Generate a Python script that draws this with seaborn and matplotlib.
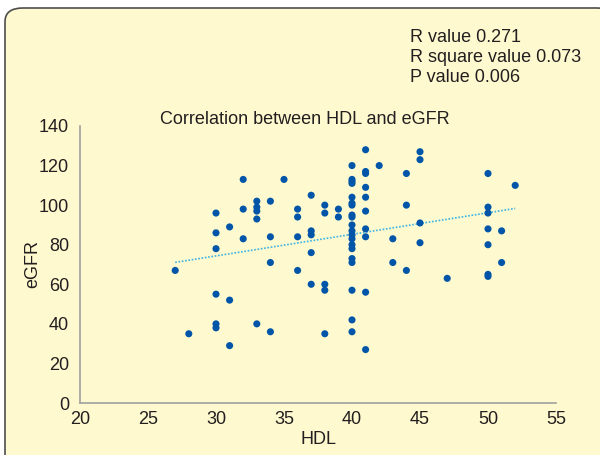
import pandas as pd
import matplotlib.pyplot as plt
import seaborn as sns
from matplotlib.patches import FancyBboxPatch

sns.set_theme(style="white")
plt.rcParams['font.family'] = ['Liberation Sans', 'DejaVu Sans']

# values (HDL, eGFR pairs)
hdl = [32, 30, 32, 31, 30, 32, 30, 27, 30, 31, 30, 30, 28, 31,
       35, 33, 33, 33, 33, 34, 34, 34, 33, 34,
       36, 36, 36, 36, 37, 37, 37, 37, 37,
       38, 38, 38, 38, 38, 39, 39,
       40, 40, 40, 40, 40, 40, 40, 40, 40, 40, 40, 40, 40, 40, 40, 40, 40, 40, 40, 40,
       41, 41, 41, 41, 41, 41, 41, 41, 41, 41,
       42, 43, 43, 44, 44, 44,
       45, 45, 45, 45, 47,
       50, 50, 50, 50, 51, 50, 51, 50, 50, 52]
egfr = [113, 96, 98, 89, 86, 83, 78, 67, 55, 52, 40, 38, 35, 29,
        113, 102, 99, 97, 93, 102, 84, 71, 40, 36,
        98, 94, 84, 67, 105, 87, 85, 76, 60,
        100, 96, 60, 57, 35, 98, 94,
        120, 113, 112, 111, 104, 101, 100, 95, 94, 90, 87, 85, 83, 80, 78, 73, 71, 57, 42, 36,
        128, 117, 116, 109, 104, 97, 88, 84, 56, 27,
        120, 83, 71, 116, 100, 67,
        127, 123, 91, 81, 63,
        116, 99, 96, 88, 87, 80, 71, 65, 64, 110]

stats_lines = ["R value 0.271", "R square value 0.073", "P value 0.006"]
title = "Correlation between HDL and eGFR"

df = pd.DataFrame({"HDL": hdl, "eGFR": egfr})

bg = '#FEF9CE'
txt = '#231F20'
fs = 13
fig = plt.figure(figsize=(6, 4.55), dpi=100)
fig.patch.set_facecolor('white')

# rounded panel border (runs off the right and bottom edges)
W, H = 600, 455
box = FancyBboxPatch((5 / W, 1 - 8 / H - 460 / H), 610 / W, 460 / H,
                     boxstyle="round,pad=0,rounding_size=0.03",
                     transform=fig.transFigure, facecolor=bg,
                     edgecolor='#4D4D4D', linewidth=1.2, zorder=-10)
fig.patches.append(box)

ax = fig.add_axes([80 / W, 1 - 403 / H, 476 / W, 277 / H])
ax.patch.set_alpha(0)

sns.regplot(data=df, x="HDL", y="eGFR", scatter=False, ci=None, ax=ax,
            line_kws=dict(color='#3BB3E6', linestyle=(0, (1, 1)), linewidth=1.2))
sns.scatterplot(data=df, x="HDL", y="eGFR", ax=ax, color='#0055A8',
                s=26, edgecolor='none', zorder=3)

ax.set_xlim(20, 55)
ax.set_ylim(0, 140)
ax.set_xticks(range(20, 56, 5))
ax.set_yticks(range(0, 141, 20))
for s in ['top', 'right']:
    ax.spines[s].set_visible(False)
for s in ['left', 'bottom']:
    ax.spines[s].set_color('#A0A0A0')
    ax.spines[s].set_linewidth(1.2)
ax.tick_params(axis='y', length=0, labelsize=fs, labelcolor=txt, pad=8)
ax.tick_params(axis='x', length=0, labelsize=fs, labelcolor=txt, pad=6)
ax.set_xlabel("HDL", fontsize=fs, color=txt, labelpad=2)
ax.set_ylabel("eGFR", fontsize=fs, color=txt, labelpad=-2)
ax.grid(False)

fig.text(305 / W, 1 - 119 / H, title, ha='center', va='center', fontsize=fs, color=txt)
for i, line in enumerate(stats_lines):
    fig.text(410 / W, 1 - (37 + 20 * i) / H, line, ha='left', va='center',
             fontsize=fs, color=txt)

fig.savefig('out.png', dpi=100, facecolor=fig.get_facecolor())
